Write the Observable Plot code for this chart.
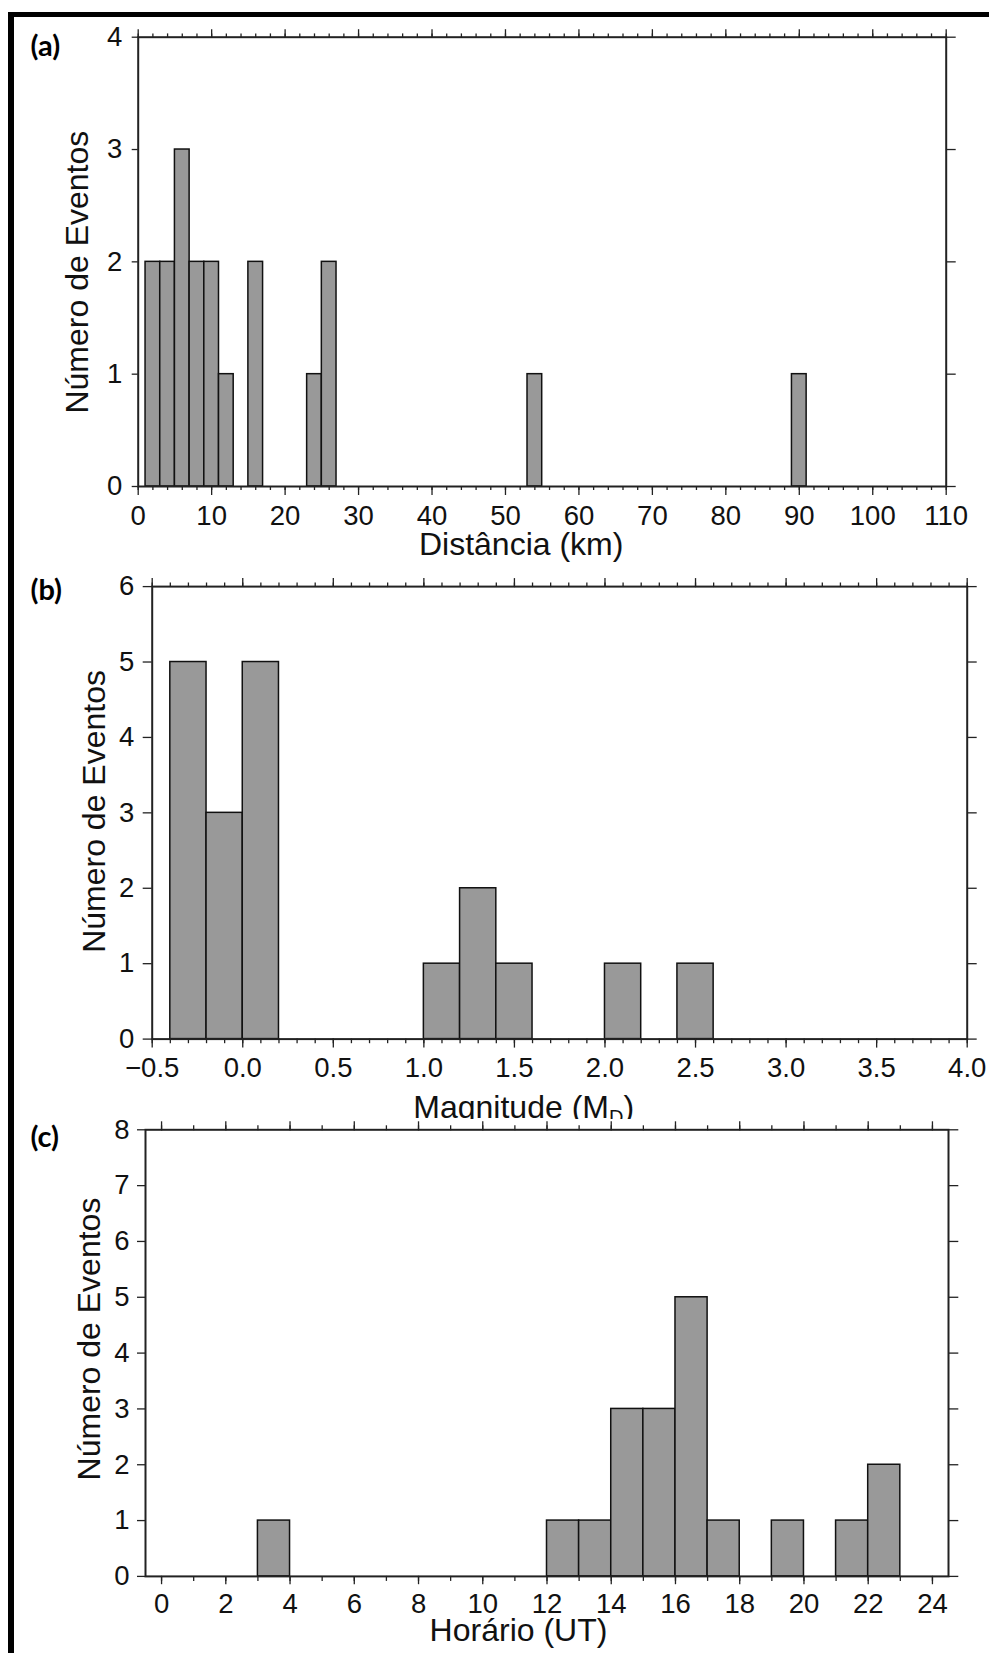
<!DOCTYPE html>
<html><head><meta charset="utf-8">
<script src="https://cdn.jsdelivr.net/npm/d3@7"></script>
<script src="https://cdn.jsdelivr.net/npm/@observablehq/plot@0.6"></script>
<style>
html,body{margin:0;padding:0;background:#fff;overflow:hidden}
#root{position:relative;width:989px;height:1653px;background:#fff;overflow:hidden}
#root svg{position:absolute;left:0}
#border{position:absolute;left:8px;top:12px;width:1200px;height:1700px;border-top:5px solid #000;border-left:6px solid #000;z-index:10;pointer-events:none}
</style></head><body><div id="root"><div id="border"></div></div>
<script>
// ---- Data ----
// (a) distance histogram (bin lower edges, km) and counts
const distBinLo = [1, 3, 5, 7, 9, 11, 15, 23, 25, 53, 89];
const distCounts = [2, 2, 3, 2, 2, 1, 2, 1, 2, 1, 1];
const distBinWidth = 2;
const distTicks = [0, 10, 20, 30, 40, 50, 60, 70, 80, 90, 100, 110];
const distTickLabels = ["0", "10", "20", "30", "40", "50", "60", "70", "80", "90", "100", "110"];
const countTicksA = [0, 1, 2, 3, 4];
const countLabelsA = ["0", "1", "2", "3", "4"];

// (b) magnitude histogram
const magBinLo = [-0.4, -0.2, 0.0, 1.0, 1.2, 1.4, 2.0, 2.4];
const magCounts = [5, 3, 5, 1, 2, 1, 1, 1];
const magBinWidth = 0.2;
const magTicks = [-0.5, 0, 0.5, 1, 1.5, 2, 2.5, 3, 3.5, 4];
const magTickLabels = ["\u22120.5", "0.0", "0.5", "1.0", "1.5", "2.0", "2.5", "3.0", "3.5", "4.0"];
const countTicksB = [0, 1, 2, 3, 4, 5, 6];
const countLabelsB = ["0", "1", "2", "3", "4", "5", "6"];

// (c) hour histogram
const hourBinLo = [3, 12, 13, 14, 15, 16, 17, 19, 21, 22];
const hourCounts = [1, 1, 1, 3, 3, 5, 1, 1, 1, 2];
const hourBinWidth = 1;
const hourTicks = [0, 2, 4, 6, 8, 10, 12, 14, 16, 18, 20, 22, 24];
const hourTickLabels = ["0", "2", "4", "6", "8", "10", "12", "14", "16", "18", "20", "22", "24"];
const countTicksC = [0, 1, 2, 3, 4, 5, 6, 7, 8];
const countLabelsC = ["0", "1", "2", "3", "4", "5", "6", "7", "8"];

const yTitle = "Número de Eventos";
const distTitle = "Distância (km)";
const magTitleMain = "Magnitude (M";
const magTitleSub = "D";
const magTitleEnd = ")";
const hourTitle = "Horário (UT)";
const tags = ["(a)", "(b)", "(c)"];

const FONT = "'Liberation Sans', Arial, Helvetica, sans-serif";
const TICKFS = 27.5;
const TITLEFS = 32;
const root = document.getElementById("root");

function panel(o) {
  const bars = o.lo.map((x1, i) => ({x1, x2: x1 + o.bw, y: o.counts[i]}));
  const xf = new Map(o.xTicks.map((t, i) => [t, o.xLabels[i]]));
  const yf = new Map(o.yTicks.map((t, i) => [t, o.yLabels[i]]));
  const tk = {stroke: "#222", strokeWidth: 1.3, label: null};
  const plot = Plot.plot({
    width: 989, height: o.height,
    marginTop: o.mt, marginBottom: o.mb, marginLeft: o.ml, marginRight: o.mr,
    x: {domain: o.xDomain, label: null},
    y: {domain: o.yDomain, label: null},
    style: {background: o.bg, overflow: "visible", fontFamily: FONT, fontSize: TICKFS + "px", color: "#111"},
    marks: [
      Plot.rectY(bars, {x1: "x1", x2: "x2", y: "y", fill: "#999", stroke: "#111", strokeWidth: 1.5}),
      Plot.frame({stroke: "#222", strokeWidth: 2}),
      Plot.axisX({anchor: "bottom", ticks: o.xTicks, tickSize: o.tsB, tickPadding: o.tpB, tickFormat: d => xf.get(d), fill: "#111", fontSize: TICKFS, ...tk}),
      Plot.axisX({anchor: "bottom", ticks: o.xMinor, tickSize: o.tsBm, fill: "none", ...tk}),
      Plot.axisX({anchor: "top", ticks: o.xTicks, tickSize: o.tsT, fill: "none", ...tk}),
      Plot.axisX({anchor: "top", ticks: o.xMinor, tickSize: o.tsTm, fill: "none", ...tk}),
      Plot.axisY({anchor: "left", ticks: o.yTicks, tickSize: o.tsL, tickPadding: o.tpL, tickFormat: d => yf.get(d), fill: "#111", fontSize: TICKFS, ...tk}),
      Plot.axisY({anchor: "right", ticks: o.yTicks, tickSize: o.tsR, fill: "none", ...tk}),
      Plot.text([o.xTitle], {text: d => d, frameAnchor: "bottom", lineAnchor: o.xTitleAnchor, dx: o.xtDx, dy: o.xtDy, fontSize: TITLEFS, fill: "#111"}),
      Plot.text([yTitle], {text: d => d, frameAnchor: "left", rotate: -90, textAnchor: "middle", lineAnchor: "middle", dx: o.ytDx, dy: o.ytDy, fontSize: TITLEFS, fill: "#111"}),
      Plot.text([o.tag], {text: d => d, frameAnchor: "top-left", textAnchor: "start", lineAnchor: "bottom", dx: o.tagDx, dy: o.tagDy, fontFamily: "Lato, 'Open Sans', sans-serif", fontWeight: "bold", fontSize: 29, fill: "#000"})
    ]
  });
  plot.style.top = o.top + "px";
  root.appendChild(plot);
  return plot;
}

panel({
  top: 0, height: 570, mt: 36.7, mb: 84, ml: 137.7, mr: 43.3, bg: "transparent",
  lo: distBinLo, counts: distCounts, bw: distBinWidth,
  xDomain: [0, 110], yDomain: [0, 4],
  xTicks: distTicks, xLabels: distTickLabels, xMinor: d3.range(0, 111, 2),
  yTicks: countTicksA, yLabels: countLabelsA,
  tsB: 9, tpB: 10, tsBm: 4, tsT: 8.5, tsTm: 4.3, tsL: 6, tpL: 10, tsR: 9,
  xTitle: distTitle, xTitleAnchor: "top", xtDx: -21, xtDy: 45.7, ytDx: -60.2, ytDy: 10.3,
  tag: tags[0], tagDx: -107.7, tagDy: 18.3
});

const pb = panel({
  top: 570, height: 549, mt: 16.1, mb: 80.4, ml: 151.7, mr: 22.3, bg: "transparent",
  lo: magBinLo, counts: magCounts, bw: magBinWidth,
  xDomain: [-0.5, 4], yDomain: [0, 6],
  xTicks: magTicks, xLabels: magTickLabels, xMinor: d3.range(-5, 41).map(i => i / 10),
  yTicks: countTicksB, yLabels: countLabelsB,
  tsB: 9, tpB: 9.7, tsBm: 4.6, tsT: 9, tsTm: 4.6, tsL: 9, tpL: 9, tsR: 9,
  xTitle: magTitleMain + magTitleSub + magTitleEnd, xTitleAnchor: "bottom", xtDx: -36, xtDy: 78.6, ytDx: -57, ytDy: -1.4,
  tag: tags[1], tagDx: -121.7, tagDy: 13
});
// subscript D in the magnitude title
const mt = [...pb.querySelectorAll("text")].find(e => e.textContent === magTitleMain + magTitleSub + magTitleEnd);
if (mt) {
  mt.textContent = magTitleMain;
  const ns = "http://www.w3.org/2000/svg";
  const s = document.createElementNS(ns, "tspan");
  s.setAttribute("font-size", "20");
  s.setAttribute("dy", "6");
  s.textContent = magTitleSub;
  const e = document.createElementNS(ns, "tspan");
  e.setAttribute("dy", "-6");
  e.textContent = magTitleEnd;
  mt.appendChild(s); mt.appendChild(e);
}

panel({
  top: 1119, height: 534, mt: 10.3, mb: 77.1, ml: 145, mr: 41, bg: "white",
  lo: hourBinLo, counts: hourCounts, bw: hourBinWidth,
  xDomain: [-0.5, 24.5], yDomain: [0, 8],
  xTicks: hourTicks, xLabels: hourTickLabels, xMinor: d3.range(0, 25),
  yTicks: countTicksC, yLabels: countLabelsC,
  tsB: 8.3, tpB: 9, tsBm: 5, tsT: 9, tsTm: 5, tsL: 8, tpL: 8, tsR: 9.3,
  xTitle: hourTitle, xTitleAnchor: "top", xtDx: -28.5, xtDy: 41.4, ytDx: -55.3, ytDy: -14.1,
  tag: tags[2], tagDx: -115, tagDy: 16.7
});
</script></body></html>
